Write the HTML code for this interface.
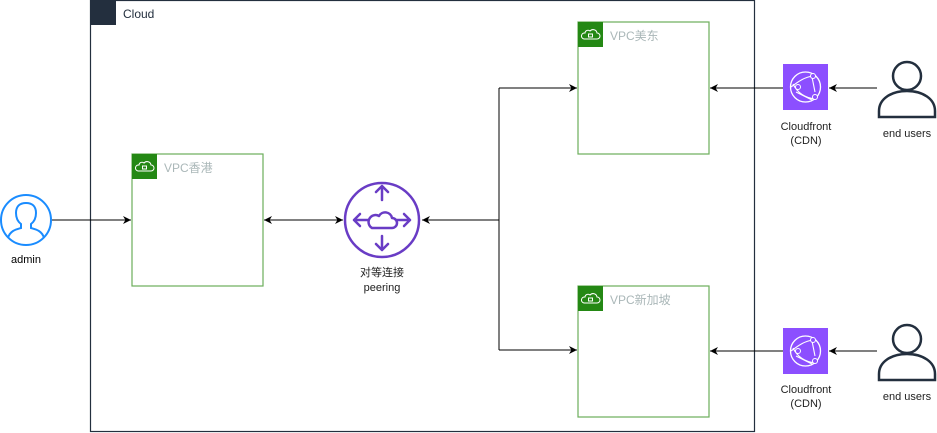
<!DOCTYPE html>
<html><head><meta charset="utf-8"><style>body{margin:0;background:#fff}svg{display:block}text{font-family:"Liberation Sans","Noto Sans CJK SC",sans-serif}</style></head><body>
<svg width="937" height="433" viewBox="0 0 937 433" xmlns="http://www.w3.org/2000/svg">
<defs><marker id="a" viewBox="0 0 10 10" refX="10" refY="5" markerWidth="8" markerHeight="8" orient="auto-start-reverse"><path d="M0,0 L10,5 L0,10 L3,5 Z" fill="#000"/></marker></defs>
<!-- Cloud -->
<rect x="90.5" y="0.5" width="664" height="431" fill="none" stroke="#232f3e" stroke-width="1.2"/>
<rect x="90" y="0" width="26" height="25" fill="#232f3e"/>
<text x="123" y="18" font-size="12" fill="#232f3e">Cloud</text>
<!-- VPCs -->
<g fill="none" stroke="#6cae5b" stroke-width="1.2">
<rect x="132" y="154" width="131" height="132"/>
<rect x="578" y="22" width="131" height="132"/>
<rect x="578" y="286" width="131" height="131"/>
</g>
<g fill="#248814"><rect x="132" y="154" width="25" height="25"/><rect x="578" y="22" width="25" height="25"/><rect x="578" y="286" width="25" height="25"/></g>
<g fill="none" stroke="#fff" stroke-width="1">
<path d="M138,171 h13 a3,3 0 0 0 0,-6 a4,4 0 0 0 -7,-2 a3,3 0 0 0 -5,2 a2.5,2.5 0 0 0 -1,6z"/><rect x="142.5" y="166" width="4" height="3"/>
<path d="M584,39 h13 a3,3 0 0 0 0,-6 a4,4 0 0 0 -7,-2 a3,3 0 0 0 -5,2 a2.5,2.5 0 0 0 -1,6z"/><rect x="588.5" y="34" width="4" height="3"/>
<path d="M584,303 h13 a3,3 0 0 0 0,-6 a4,4 0 0 0 -7,-2 a3,3 0 0 0 -5,2 a2.5,2.5 0 0 0 -1,6z"/><rect x="588.5" y="298" width="4" height="3"/>
</g>
<g font-size="12" fill="#aab7b8">
<text x="164" y="172">VPC香港</text><text x="610" y="40">VPC美东</text><text x="610" y="304">VPC新加坡</text>
</g>
<!-- connectors -->
<g stroke="#000" stroke-width="1" fill="none">
<line x1="52" y1="220" x2="131" y2="220" marker-end="url(#a)"/>
<line x1="264" y1="220" x2="343" y2="220" marker-start="url(#a)" marker-end="url(#a)"/>
<polyline points="499,88 499,350"/>
<line x1="499" y1="220" x2="422" y2="220" marker-end="url(#a)"/>
<line x1="499" y1="88" x2="577" y2="88" marker-end="url(#a)"/>
<line x1="499" y1="350" x2="577" y2="350" marker-end="url(#a)"/>
<line x1="783" y1="88" x2="710" y2="88" marker-end="url(#a)"/>
<line x1="783" y1="351" x2="710" y2="351" marker-end="url(#a)"/>
<line x1="877" y1="88" x2="829" y2="88" marker-end="url(#a)"/>
<line x1="877" y1="351" x2="829" y2="351" marker-end="url(#a)"/>
</g>
<!-- admin -->
<circle cx="26" cy="220" r="25" fill="#fff" stroke="#1a8cff" stroke-width="2"/>
<path d="M8,238 c2,-8 10,-9 13,-10 v-4 c-4,-3 -5,-7 -5,-11 c0,-7 4,-10 10,-10 c6,0 10,3 10,10 c0,4 -1,8 -5,11 v4 c3,1 11,2 13,10" fill="none" stroke="#1a8cff" stroke-width="2"/>
<text x="26" y="263" font-size="11" text-anchor="middle" fill="#000">admin</text>
<!-- router -->
<circle cx="382" cy="220" r="37" fill="#fff" stroke="#693cc5" stroke-width="2.5"/>
<g stroke="#693cc5" stroke-width="2.5" fill="none" stroke-linecap="round" stroke-linejoin="round">
<path d="M382,200 v-14 M376,192 l6,-6 l6,6"/><path d="M382,236 v14 M376,244 l6,6 l6,-6"/>
<path d="M368,220 h-14 M360,214 l-6,6 l6,6"/><path d="M396,220 h14 M404,214 l6,6 l-6,6"/>
<path d="M372,228 h20 a5,5 0 0 0 0,-10 a7,7 0 0 0 -13,-2 a5,5 0 0 0 -7,12z"/>
</g>
<text x="382" y="276" font-size="11" text-anchor="middle" fill="#222">对等连接</text>
<text x="382" y="291" font-size="11" text-anchor="middle" fill="#222">peering</text>
<!-- cloudfront -->
<g id="cf">
<rect x="783" y="64" width="45" height="46" fill="#8c4fff"/>
<circle cx="805.5" cy="87" r="15" fill="none" stroke="#fff" stroke-width="1.3"/>
<path d="M791,87 c8,-6 14,-10 22,-11 M796,92 l16,8 M812,77 l3,15 M793,84 c5,10 14,14 22,15" fill="none" stroke="#fff" stroke-width="1.1"/>
<circle cx="813" cy="76" r="2.5" fill="#8c4fff" stroke="#fff"/><circle cx="798" cy="87" r="2.5" fill="#8c4fff" stroke="#fff"/><circle cx="815" cy="97" r="2.5" fill="#8c4fff" stroke="#fff"/>
</g>
<use href="#cf" y="264"/>
<g font-size="11" fill="#222" text-anchor="middle">
<text x="806" y="130">Cloudfront</text><text x="806" y="144">(CDN)</text>
<text x="806" y="393">Cloudfront</text><text x="806" y="407">(CDN)</text>
<text x="907" y="137">end users</text><text x="907" y="400">end users</text>
</g>
<!-- end users -->
<g id="u" fill="none" stroke="#232f3e" stroke-width="2.5">
<circle cx="907" cy="76" r="14"/>
<path d="M879,117 v-6 c0,-12 12,-20 28,-20 c16,0 28,8 28,20 v6 z"/>
</g>
<use href="#u" y="263"/>
</svg>
</body></html>
